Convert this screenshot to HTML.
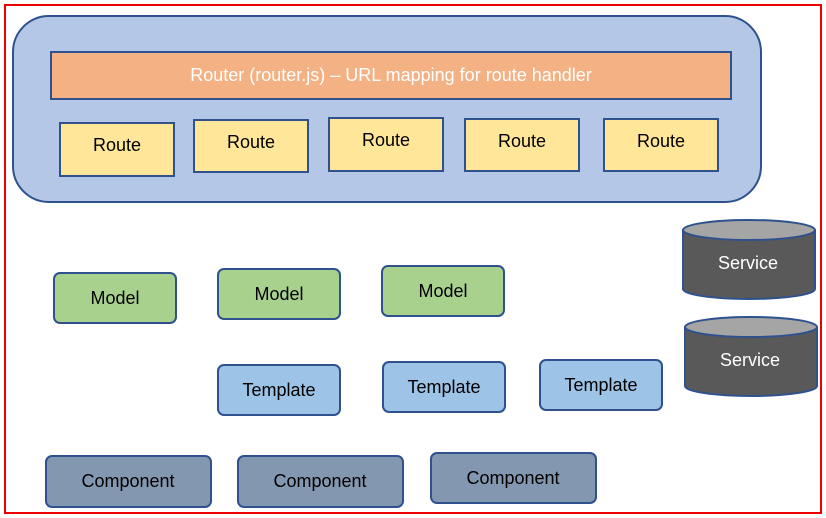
<!DOCTYPE html>
<html><head><style>body{margin:0;background:#fff}svg{display:block}text{font-family:"Liberation Sans",sans-serif;font-size:18px;text-anchor:middle;dominant-baseline:central}</style></head><body>
<svg width="826" height="518" xmlns="http://www.w3.org/2000/svg">
<rect x="5" y="5" width="816" height="508" fill="#fff" stroke="#e00" stroke-width="2"/>
<rect x="13" y="16" width="748" height="186" rx="36" fill="#b4c7e7" stroke="#2f528f" stroke-width="2"/>
<rect x="51" y="52" width="680" height="47" fill="#f4b183" stroke="#2f528f" stroke-width="2"/>
<text x="391" y="75" fill="#fff">Router (router.js) – URL mapping for route handler</text>
<g fill="#ffe699" stroke="#2f528f" stroke-width="2">
<rect x="60" y="123" width="114" height="53"/><rect x="194" y="120" width="114" height="52"/><rect x="329" y="118" width="114" height="53"/><rect x="465" y="119" width="114" height="52"/><rect x="604" y="119" width="114" height="52"/></g>
<g fill="#000"><text x="117" y="145">Route</text><text x="251" y="142">Route</text><text x="386" y="140">Route</text><text x="522" y="141">Route</text><text x="661" y="141">Route</text></g>
<g fill="#a9d18e" stroke="#2f528f" stroke-width="2">
<rect x="54" y="273" width="122" height="50" rx="6"/><rect x="218" y="269" width="122" height="50" rx="6"/><rect x="382" y="266" width="122" height="50" rx="6"/></g>
<g fill="#9dc3e6" stroke="#2f528f" stroke-width="2">
<rect x="218" y="365" width="122" height="50" rx="6"/><rect x="383" y="362" width="122" height="50" rx="6"/><rect x="540" y="360" width="122" height="50" rx="6"/></g>
<g fill="#8497b0" stroke="#2f528f" stroke-width="2">
<rect x="46" y="456" width="165" height="51" rx="6"/><rect x="238" y="456" width="165" height="51" rx="6"/><rect x="431" y="453" width="165" height="50" rx="6"/></g>
<g fill="#000"><text x="115" y="298">Model</text><text x="279" y="294">Model</text><text x="443" y="291">Model</text>
<text x="279" y="390">Template</text><text x="444" y="387">Template</text><text x="601" y="385">Template</text>
<text x="128" y="481">Component</text><text x="320" y="481">Component</text><text x="513" y="478">Component</text></g>
<g stroke="#2f528f" stroke-width="2">
<path d="M683 230 V289 A66 10 0 0 0 815 289 V230" fill="#595959"/><ellipse cx="749" cy="230" rx="66" ry="10" fill="#a5a5a5"/>
<path d="M685 327 V386 A66 10 0 0 0 817 386 V327" fill="#595959"/><ellipse cx="751" cy="327" rx="66" ry="10" fill="#a5a5a5"/></g>
<g fill="#fff"><text x="748" y="263">Service</text><text x="750" y="360">Service</text></g>
</svg></body></html>
